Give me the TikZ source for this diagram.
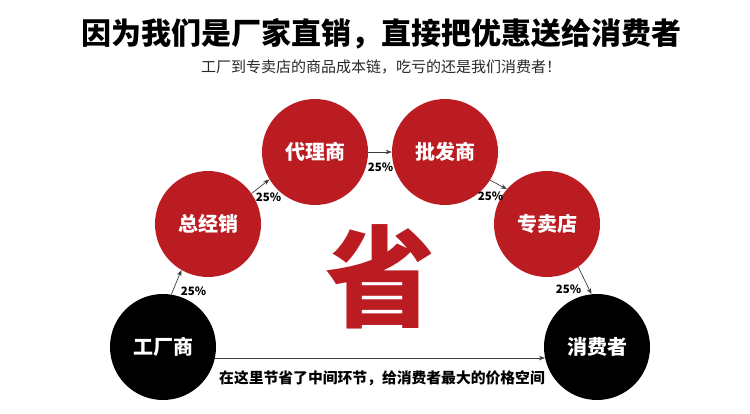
\documentclass[tikz,border=0pt]{standalone}
\usepackage{fontspec}
\newfontfamily\cjk{Noto Sans CJK SC}
\usetikzlibrary{arrows.meta}
\definecolor{cred}{RGB}{186,28,34}
\definecolor{sub}{RGB}{40,40,40}
\definecolor{arr}{RGB}{60,60,60}
\tikzset{
  redc/.style={circle,fill=cred,minimum size=106pt,inner sep=0pt,text=white,font=\cjk\bfseries\fontsize{20}{22}\selectfont},
  blkc/.style={circle,fill=black,minimum size=106pt,inner sep=0pt,text=white,font=\cjk\bfseries\fontsize{20}{22}\selectfont},
  pct/.style={inner sep=0pt,font=\cjk\bfseries\fontsize{11.5}{12}\selectfont},
  conn/.style={draw=arr,line width=0.7pt,-{Stealth[length=6pt,width=4.5pt]}}
}
\begin{document}
\begin{tikzpicture}[x=1pt,y=-1pt]
\useasboundingbox (0,0) rectangle (750,414);
\node[inner sep=0pt,font=\cjk\bfseries\fontsize{30}{32}\selectfont] (title) at (381.5,34) {因为我们是厂家直销，直接把优惠送给消费者};
\node[inner sep=0pt,text=sub,font=\cjk\fontsize{15}{16}\selectfont] (subt) at (381,67) {工厂到专卖店的商品成本链，吃亏的还是我们消费者！};
\node[inner sep=0pt,text=cred,font=\cjk\bfseries\fontsize{110}{110}\selectfont] (sheng) at (380,277) {省};
\node[blkc] (fac) at (163,347) {工厂商};
\node[redc] (zjx) at (208,224) {总经销};
\node[redc] (dls) at (315,152) {代理商};
\node[redc] (pfs) at (445,152) {批发商};
\node[redc] (zmd) at (547,224) {专卖店};
\node[blkc] (con) at (597,347) {消费者};
\draw[conn] (fac.81.6) -- (zjx.240.5);
\draw[conn] (zjx.35) -- (dls.211);
\draw[conn] (dls.0) -- (pfs.180);
\draw[conn] (pfs.-32) -- (zmd.139.5);
\draw[conn] (zmd.-54.8) -- (con.96);
\draw[conn] (fac.-12) -- (con.192);
\node[pct] (p1) at (193.5,291) {25\%};
\node[pct] (p2) at (268.5,197) {25\%};
\node[pct] (p3) at (380.5,167) {25\%};
\node[pct] (p4) at (490.5,196) {25\%};
\node[pct] (p5) at (568.5,289) {25\%};
\node[inner sep=0pt,font=\cjk\bfseries\fontsize{14.8}{16}\selectfont] (note) at (382,378) {在这里节省了中间环节，给消费者最大的价格空间};
\end{tikzpicture}
\end{document}
